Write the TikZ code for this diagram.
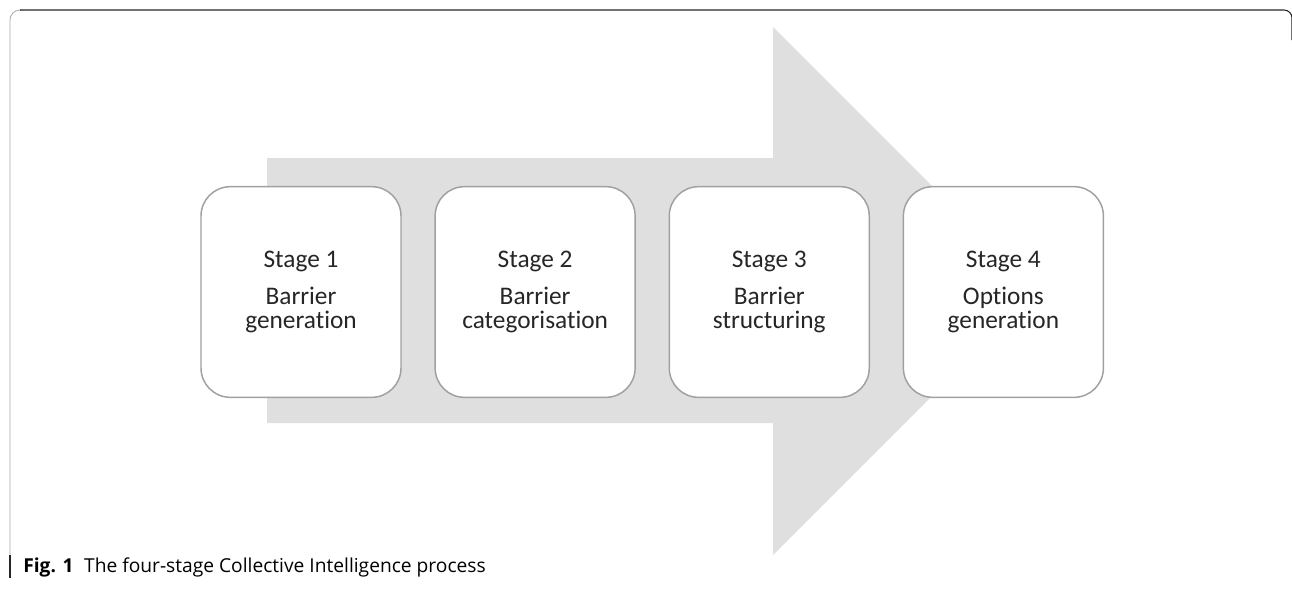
\documentclass[tikz,border=0pt]{standalone}
\usepackage{fontspec}
\setmainfont{Carlito}[Ligatures={NoCommon,NoContextual},RawFeature={-liga;-clig;-calt;-dlig}]
\newfontfamily\capfont{Open Sans}
\usetikzlibrary{positioning}
\definecolor{arrowgray}{HTML}{DFDFDF}
\definecolor{boxline}{HTML}{A0A0A0}
\definecolor{textgray}{HTML}{262626}
\tikzset{
  stagebox/.style={draw=boxline, line width=1.1pt, fill=white, rounded corners=22pt,
    minimum width=150pt, minimum height=158pt, inner sep=0pt, align=center,
    text=textgray, font=\fontsize{19}{18.5}\selectfont},
}
\begin{document}
\begin{tikzpicture}[x=0.75pt,y=-0.75pt]
\useasboundingbox (0,0) rectangle (1292,590);
% frame
\draw[gray!70, line width=0.6pt, rounded corners=7.5pt] (10,555) -- (10,10) -- (22,10);
\draw[black!85, line width=0.8pt, rounded corners=6pt] (20,10) -- (1292,10) -- (1292,40);
\draw[black!85, line width=1pt] (10,555) -- (10,578);

% big arrow
\fill[arrowgray] (267,158) -- (773,158) -- (773,27) -- (1037,291) -- (773,555)
  -- (773,423) -- (267,423) -- cycle;

\node[stagebox] (s1) at (301,292) {Stage 1\\[9pt]Barrier\\generation};
\node[stagebox, right=24.5pt of s1] (s2) {Stage 2\\[9pt]Barrier\\categorisation};
\node[stagebox, right=24.5pt of s2] (s3) {Stage 3\\[9pt]Barrier\\structuring};
\node[stagebox, right=24.5pt of s3] (s4) {Stage 4\\[9pt]Options\\generation};

% caption
\node[anchor=base west, inner sep=0pt, font=\capfont\fontsize{14.4}{16}\selectfont]
  (cap) at (23,572) {\textbf{Fig. 1}\hspace{0.55em}The four-stage Collective Intelligence process};
\end{tikzpicture}
\end{document}
